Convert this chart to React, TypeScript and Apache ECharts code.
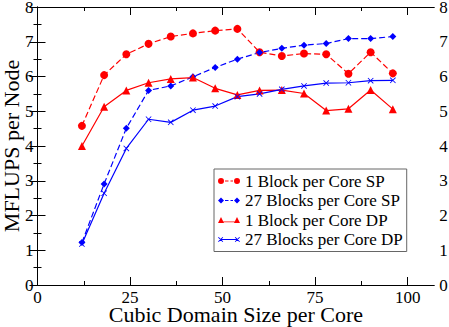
import React, { useEffect, useRef } from "react";
import * as echarts from "echarts";

const xValues = [12, 18, 24, 30, 36, 42, 48, 54, 60, 66, 72, 78, 84, 90, 96];
const oneBlockSP = [4.58, 6.04, 6.64, 6.94, 7.15, 7.24, 7.32, 7.37, 6.7, 6.59, 6.66, 6.64, 6.08, 6.7, 6.09];
const blocks27SP = [1.22, 2.91, 4.51, 5.6, 5.73, 5.99, 6.26, 6.5, 6.69, 6.81, 6.9, 6.95, 7.09, 7.09, 7.15];
const oneBlockDP = [4.0, 5.13, 5.6, 5.82, 5.93, 5.97, 5.66, 5.47, 5.6, 5.61, 5.51, 5.02, 5.07, 5.61, 5.06];
const blocks27DP = [1.18, 2.64, 3.93, 4.77, 4.68, 5.03, 5.15, 5.42, 5.5, 5.63, 5.73, 5.81, 5.82, 5.88, 5.89];

const seriesNames = [
  "1 Block per Core SP",
  "27 Blocks per Core SP",
  "1 Block per Core DP",
  "27 Blocks per Core DP",
];
const xMajorTicks = [0, 25, 50, 75, 100];
const xMinorTicks = [12.5, 37.5, 62.5, 87.5];

const FONT = '"Liberation Serif", "DejaVu Serif", serif';
const RED = "#ff0000";
const BLUE = "#0000ff";

const xSymbol = "path://M0,1 L1,0 L10,9 L9,10 Z M9,0 L10,1 L1,10 L0,9 Z";

const circ = (cx: number) => `M${cx - 3},4 A3,3 0 1,0 ${cx + 3},4 A3,3 0 1,0 ${cx - 3},4 Z`;
const dashes = "M7,3.5 L10.5,3.5 L10.5,4.5 L7,4.5 Z M12.5,3.5 L15,3.5 L15,4.5 L12.5,4.5 Z";
const iconSP1 = "path://" + circ(3) + " " + circ(19) + " " + dashes;
const dia = (cx: number) => `M${cx - 3},4 L${cx},1 L${cx + 3},4 L${cx},7 Z`;
const iconSP27 = "path://" + dia(3) + " " + dia(19) + " " + dashes;
const tri = (cx: number) => `M${cx - 3},7 L${cx},1 L${cx + 3},7 Z`;
const iconDP1 = "path://" + tri(3) + " " + tri(19) + " M3,5.4 L19,5.4 L19,6.3 L3,6.3 Z";
const xm = (cx: number) =>
  `M${cx - 2.5},2.2 L${cx - 1.8},1.5 L${cx + 2.5},5.8 L${cx + 1.8},6.5 Z M${cx + 1.8},1.5 L${cx + 2.5},2.2 L${cx - 1.8},6.5 L${cx - 2.5},5.8 Z`;
const iconDP27 = "path://" + xm(3) + " " + xm(19) + " M3,3.6 L19,3.6 L19,4.4 L3,4.4 Z";

const toPairs = (ys: number[]) => xValues.map((x, i) => [x, ys[i]]);

export default function App() {
  const ref = useRef<HTMLDivElement>(null);
  useEffect(() => {
    if (!ref.current) return;
    const chart = echarts.init(ref.current, null, { renderer: "svg" });
    const XMAX = 107.2;
    const baseX = {
      type: "value",
      min: 0,
      max: XMAX,
      splitLine: { show: false },
    };
    chart.setOption({
      animation: false,
      backgroundColor: "#fff",
      textStyle: { fontFamily: FONT },
      grid: { left: 37.5, right: 14.7, top: 7, bottom: 42, containLabel: false, outerBoundsMode: "none" },
      xAxis: [
        {
          ...baseX,
          position: "bottom",
          name: "Cubic Domain Size per Core",
          nameLocation: "middle",
          nameGap: 19.5,
          nameMoveOverlap: false,
          nameTextStyle: { fontFamily: FONT, fontSize: 22, lineHeight: 20, color: "#000" },
          axisLine: { lineStyle: { color: "#000", width: 1 } },
          axisTick: { inside: true, length: 8, customValues: xMajorTicks, lineStyle: { color: "#000" } },
          axisLabel: { customValues: xMajorTicks, fontFamily: FONT, fontSize: 17, lineHeight: 14, color: "#000", margin: 5 },
        },
        {
          ...baseX,
          position: "bottom",
          axisLine: { show: false },
          axisTick: { inside: true, length: 4, customValues: xMinorTicks, lineStyle: { color: "#000" } },
          axisLabel: { show: false },
        },
        {
          ...baseX,
          position: "top",
          axisLine: { lineStyle: { color: "#000", width: 1 } },
          axisTick: { inside: true, length: 8, customValues: xMajorTicks, lineStyle: { color: "#000" } },
          axisLabel: { show: false },
        },
        {
          ...baseX,
          position: "top",
          axisLine: { show: false },
          axisTick: { inside: true, length: 4, customValues: xMinorTicks, lineStyle: { color: "#000" } },
          axisLabel: { show: false },
        },
      ],
      yAxis: [
        {
          type: "value",
          position: "left",
          min: 0,
          max: 8,
          interval: 1,
          name: "MFLUPS per Node",
          nameLocation: "middle",
          nameGap: 15,
          nameMoveOverlap: false,
          nameTextStyle: { fontFamily: FONT, fontSize: 22, color: "#000" },
          splitLine: { show: false },
          axisLine: { show: true, lineStyle: { color: "#000", width: 1 } },
          axisTick: { show: true, inside: true, length: 8, lineStyle: { color: "#000" } },
          minorTick: { show: true, splitNumber: 2, length: 4, lineStyle: { color: "#000" } },
          minorSplitLine: { show: false },
          axisLabel: { fontFamily: FONT, fontSize: 17, lineHeight: 14, color: "#000", margin: 4 },
        },
        {
          type: "value",
          position: "right",
          min: 0,
          max: 8,
          interval: 1,
          splitLine: { show: false },
          axisLine: { show: true, lineStyle: { color: "#000", width: 1 } },
          axisTick: { show: true, inside: true, length: 8, lineStyle: { color: "#000" } },
          minorTick: { show: true, splitNumber: 2, length: 4, lineStyle: { color: "#000" } },
          minorSplitLine: { show: false },
          axisLabel: { fontFamily: FONT, fontSize: 17, lineHeight: 14, color: "#000", margin: 5 },
        },
      ],
      legend: {
        orient: "vertical",
        left: 214,
        top: 169,
        padding: [3.5, 4, 3.5, 4],
        itemGap: 2.5,
        itemWidth: 22,
        itemHeight: 8,
        borderColor: "#666",
        borderWidth: 1,
        backgroundColor: "#fff",
        textStyle: { fontFamily: FONT, fontSize: 17, color: "#000", lineHeight: 17 },
        data: [
          { name: seriesNames[0], icon: iconSP1, itemStyle: { color: RED, borderWidth: 0 } },
          { name: seriesNames[1], icon: iconSP27, itemStyle: { color: BLUE, borderWidth: 0 } },
          { name: seriesNames[2], icon: iconDP1, itemStyle: { color: RED, borderWidth: 0 } },
          { name: seriesNames[3], icon: iconDP27, itemStyle: { color: BLUE, borderWidth: 0 } },
        ],
      },
      series: [
        {
          name: seriesNames[0],
          type: "line",
          data: toPairs(oneBlockSP),
          symbol: "circle",
          symbolSize: 8,
          itemStyle: { color: RED },
          lineStyle: { color: RED, width: 1.2, type: [6, 3] },
        },
        {
          name: seriesNames[1],
          type: "line",
          data: toPairs(blocks27SP),
          symbol: "diamond",
          symbolSize: 7,
          itemStyle: { color: BLUE },
          lineStyle: { color: BLUE, width: 1.2, type: [6, 3] },
        },
        {
          name: seriesNames[2],
          type: "line",
          data: toPairs(oneBlockDP),
          symbol: "triangle",
          symbolSize: 8,
          itemStyle: { color: RED },
          lineStyle: { color: RED, width: 1.2 },
        },
        {
          name: seriesNames[3],
          type: "line",
          data: toPairs(blocks27DP),
          symbol: xSymbol,
          symbolSize: 6,
          itemStyle: { color: BLUE },
          lineStyle: { color: BLUE, width: 1.2 },
        },
      ],
    });
    return () => chart.dispose();
  }, []);
  return (
    <div
      ref={ref}
      style={{ position: "absolute", left: 0, top: 0, width: 449, height: 327 }}
    />
  );
}
